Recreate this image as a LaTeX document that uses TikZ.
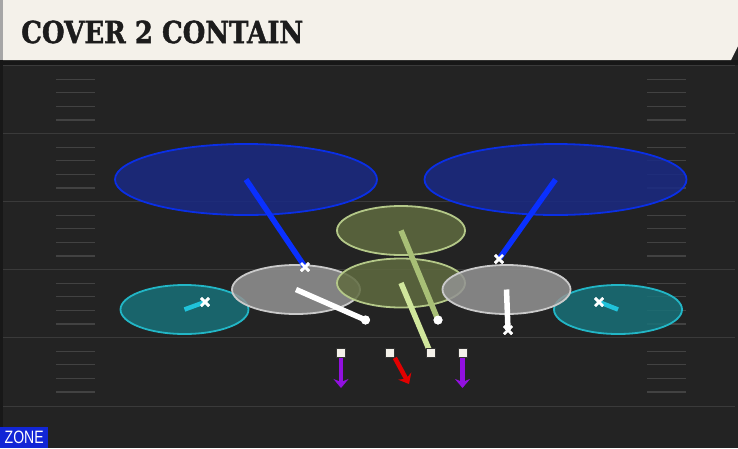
\documentclass[tikz,border=0pt]{standalone}
\usepackage{fontspec}
\setmainfont{Liberation Sans}
\newfontfamily\titlefont[BoldFeatures={FakeBold=1.5}]{DejaVu Serif}
\usetikzlibrary{positioning}
\usetikzlibrary{shapes}
\usetikzlibrary{arrows.meta}

\definecolor{fieldbg}{HTML}{232323}
\definecolor{yardgray}{HTML}{3A3A3A}
\definecolor{hashgray}{HTML}{424242}
\definecolor{titlecream}{HTML}{F4F1EA}
\definecolor{titleink}{HTML}{1C1C1C}
\definecolor{deepfill}{HTML}{1A2A84}
\definecolor{deepedge}{HTML}{0A2FE6}
\definecolor{deepline}{HTML}{0A30FF}
\definecolor{hookfill}{HTML}{606B40}
\definecolor{hookedge}{HTML}{B4C888}
\definecolor{curlfill}{HTML}{939393}
\definecolor{curledge}{HTML}{CACACA}
\definecolor{flatfill}{HTML}{187078}
\definecolor{flatedge}{HTML}{22B6C6}
\definecolor{flatline}{HTML}{20C2DA}
\definecolor{hookline}{HTML}{A8BF76}
\definecolor{spyline}{HTML}{D0E69C}
\definecolor{rushpurple}{HTML}{9210E0}
\definecolor{rushred}{HTML}{E20000}
\definecolor{zoneblue}{HTML}{1226D6}

\begin{document}
\begin{tikzpicture}[
	x=1pt, y=-1pt,
	zone/.style={ellipse, inner sep=0pt, line width=1.8pt, fill opacity=0.85},
	deep zone/.style={zone, draw=deepedge, fill=deepfill,
		minimum width=262pt, minimum height=71pt},
	hook zone/.style={zone, draw=hookedge, fill=hookfill,
		minimum width=128pt, minimum height=49pt},
	curl zone/.style={zone, draw=curledge, fill=curlfill,
		minimum width=128pt, minimum height=49pt},
	flat zone/.style={zone, draw=flatedge, fill=flatfill,
		minimum width=128pt, minimum height=49pt},
	defender/.style={cross out, draw=white, line width=2.5pt,
		minimum size=5.5pt, inner sep=0pt},
	lineman/.style={circle, fill=white, minimum size=9pt, inner sep=0pt},
	blocker/.style={rectangle, fill=titlecream, draw=black!80,
		line width=0.7pt, minimum size=9pt, inner sep=0pt}]

\tikzstyle{yard line}=[line width=1.6pt, yardgray]
\tikzstyle{hash}=[line width=1.2pt, hashgray]
\tikzstyle{assign}=[line width=5.5pt]
\tikzstyle{rush}=[line width=4.5pt,
	-{Stealth[length=9pt, width=15pt, inset=3pt]}]

\def\HashL{56}
\def\HashR{686}
\def\HashW{39}

\useasboundingbox (0,0) rectangle (738,448);

% Field
\fill[fieldbg] (0,0) rectangle (738,448);
\fill[black!30!fieldbg] (0,0) rectangle (3,448);

% yard lines
\foreach \y in {65.5,133.5,201.5,269.5,337.5,406.5}
	\draw[yard line] (3,\y) -- (735,\y);

% hash marks
\foreach \y in {65.5,133.5,201.5,269.5,337.5}
	\foreach \k in {1,...,4} {
		\draw[hash] (\HashL,\y+13.6*\k) -- ++(\HashW,0);
		\draw[hash] (\HashR-\HashW,\y+13.6*\k) -- ++(\HashW,0);
	}

% zones
\node[deep zone] (deepL) at (246,179.5) {};
\node[deep zone] (deepR) at (555.5,179.5) {};
\node[hook zone] (hookHi) at (401,230.5) {};
\node[flat zone] (flatL) at (184.5,309.5) {};
\node[flat zone] (flatR) at (618,309.5) {};
\node[curl zone] (curlL) at (296,289.5) {};
\node[hook zone] (hookLo) at (401,283) {};
\node[curl zone] (curlR) at (506.5,289.5) {};

% defenders
\node[defender] (safL) at (305,267) {};
\node[defender] (safR) at (499,259) {};
\node[defender] (cbL) at (205,302) {};
\node[defender] (cbR) at (599,302) {};
\node[defender] (lbR) at (508,330) {};
\node[lineman] (dlL) at (365.5,320) {};
\node[lineman] (dlR) at (438,320) {};
\node[blocker] (spy) at (430.5,353) {};

% rushers
\node[blocker] (rushA) at (341,353) {};
\node[blocker] (rushB) at (390,353) {};
\node[blocker] (rushC) at (462.5,353) {};
\coordinate (rushAend) at (341,388);
\coordinate (rushBend) at (409,384);
\coordinate (rushCend) at (462.5,388);

% assignments
\draw[assign, deepline] (safL.center) -- (deepL.center);
\draw[assign, deepline] (safR.center) -- (deepR.center);
\draw[assign, flatline, line width=4.5pt] (cbL.center) -- (flatL.center);
\draw[assign, flatline, line width=4.5pt] (cbR.center) -- (flatR.center);
\draw[assign, white] (lbR.center) -- (curlR.center);
\draw[assign, white] (dlL.center) -- (curlL.center);
\draw[assign, hookline] (dlR.center) -- (hookHi.center);
\draw[assign, spyline] (spy.center) -- (hookLo.center);
\draw[rush, rushpurple] (rushA.south) -- (rushAend);
\draw[rush, rushred] (rushB.south east) -- (rushBend);
\draw[rush, rushpurple] (rushC.south) -- (rushCend);

% marks on top
\foreach \n in {safL,safR,cbL,cbR,lbR}
	\node[defender] at (\n) {};
\foreach \n in {dlL,dlR}
	\node[lineman] at (\n) {};
\foreach \n in {spy,rushA,rushB,rushC}
	\node[blocker] at (\n) {};

% title bar
\fill[black!35!fieldbg] (0,60) rectangle (738,65);
\fill[gray!70] (0,0) rectangle (3,60);
\fill[titlecream] (3,0) -- (738,0) -- (738,46) -- (731,60) -- (3,60) -- cycle;
\node[anchor=west, inner sep=0pt, text=titleink] (title) at (21,32)
	{\resizebox{282pt}{22.5pt}{\titlefont\bfseries COVER 2 CONTAIN}};

% zone tag
\node[fill=zoneblue, anchor=south west, inner sep=0pt,
	minimum width=48pt, minimum height=21pt, text=white] (zonetag) at (0,448)
	{\resizebox{39pt}{12.5pt}{ZONE}};

\end{tikzpicture}
\end{document}
